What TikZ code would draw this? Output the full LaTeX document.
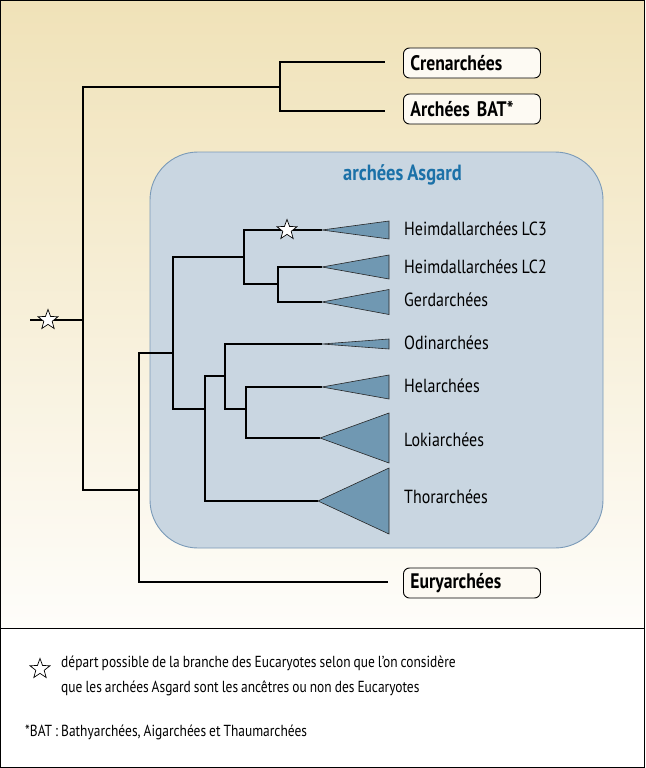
\documentclass[tikz,border=0pt]{standalone}
\usepackage{fontspec}
\setmainfont{PT Sans}[FakeStretch=0.84, WordSpace=0.84]
\usetikzlibrary{shapes.geometric,positioning}
\definecolor{asgardfill}{RGB}{201,214,225}
\definecolor{asgardline}{RGB}{122,154,184}
\definecolor{asgardtitle}{RGB}{27,113,168}
\definecolor{cladefill}{RGB}{112,152,178}
\definecolor{beigetop}{RGB}{240,226,184}
\definecolor{beigebot}{RGB}{254,253,250}
\definecolor{boxfill}{RGB}{253,250,243}

\begin{document}
\begin{tikzpicture}[x=1pt, y=-1pt,
    branch/.style={line width=1.7pt, line join=miter},
    taxon/.style={rectangle, draw, line width=0.9pt, rounded corners=6pt, fill=boxfill, anchor=west, text width=123pt, inner xsep=7pt, minimum height=30pt, align=left, font=\bfseries\fontsize{21}{24}\selectfont},
    clade/.style={anchor=west, inner sep=0pt, font=\fontsize{19}{22}\selectfont},
    cone/.style={draw=black!85, line width=0.6pt, fill=cladefill},
    starmark/.style={star, star points=5, star point ratio=2.4, minimum size=21pt, inner sep=0pt, draw, line width=0.7pt, fill=white},
    asgardbox/.style={rectangle, draw=asgardline, line width=0.9pt, fill=asgardfill, rounded corners=48pt, minimum width=453pt, minimum height=396pt},
    note/.style={anchor=west, inner sep=0pt, font=\fontsize{16}{25}\selectfont, align=left}
]
\useasboundingbox (0,0) rectangle (645,768);

% Panels
\shade[top color=beigetop, bottom color=beigebot] (0,0) rectangle (645,628);
\draw[line width=1pt] (0.5,0.5) rectangle (644.5,628);
\draw[line width=1pt] (0.5,628) rectangle (644.5,767.5);

% Asgard group
\node[asgardbox] (asgard) at (376.5,350) {};
\node[font=\bfseries\fontsize{22}{24}\selectfont, text=asgardtitle, below=10pt of asgard.north, xshift=26pt] (asgardtitle) {archées Asgard};

% Branch points
\coordinate (root) at (30,320);
\coordinate (n0) at (83,320);
\coordinate (n1) at (280,87);
\coordinate (n2) at (139,490);
\coordinate (crenend) at (385,62);
\coordinate (batend) at (385,111);
\coordinate (euryend) at (388,582);
\coordinate (asg) at (173,353);
\coordinate (heim) at (244,257);
\coordinate (lower) at (205,409);
\coordinate (gerdlc2) at (278,284);
\coordinate (odinetc) at (225,376);
\coordinate (helloki) at (246,409);
% Clade apexes
\coordinate (lc3) at (322,230);
\coordinate (lc2) at (322,267);
\coordinate (gerd) at (322,302);
\coordinate (odin) at (322,344);
\coordinate (hel) at (322,387);
\coordinate (loki) at (320,438);
\coordinate (thor) at (318,501);

% Tree
\draw[branch] (root) -- (n0);
\draw[branch] (n0) |- (n1);
\draw[branch] (n0) |- (n2);
\draw[branch] (n1) |- (crenend);
\draw[branch] (n1) |- (batend);
\draw[branch] (n2) |- (euryend);
\draw[branch] (n2) |- (asg);
\draw[branch] (asg) |- (heim);
\draw[branch] (asg) |- (lower);
\draw[branch] (heim) |- (lc3);
\draw[branch] (heim) |- (gerdlc2);
\draw[branch] (gerdlc2) |- (lc2);
\draw[branch] (gerdlc2) |- (gerd);
\draw[branch] (lower) |- (odinetc);
\draw[branch] (lower) |- (thor);
\draw[branch] (odinetc) |- (odin);
\draw[branch] (odinetc) |- (helloki);
\draw[branch] (helloki) |- (hel);
\draw[branch] (helloki) |- (loki);

% Collapsed clades
\draw[cone] (lc3) -- ++(67,-9) -- ++(0,18) -- cycle;
\draw[cone] (lc2) -- ++(67,-12) -- ++(0,24) -- cycle;
\draw[cone] (gerd) -- ++(67,-12.5) -- ++(0,25) -- cycle;
\draw[cone] (odin) -- ++(67,-5) -- ++(0,10) -- cycle;
\draw[cone] (hel) -- ++(67,-12) -- ++(0,24) -- cycle;
\draw[cone] (loki) -- ++(69,-25) -- ++(0,50) -- cycle;
\draw[cone] (thor) -- ++(71,-33) -- ++(0,66) -- cycle;

% Taxa
\node[taxon] (cren) at (403,63) {Crenarchées};
\node[taxon] (bat) at (403,109) {Archées BAT*};
\node[taxon] (eury) at (403,583) {Euryarchées};

\node[clade] (lc3lab) at (404,229) {Heimdallarchées LC3};
\node[clade] (lc2lab) at (404,267) {Heimdallarchées LC2};
\node[clade] (gerdlab) at (404,300) {Gerdarchées};
\node[clade] (odinlab) at (404,343) {Odinarchées};
\node[clade] (hellab) at (404,386) {Helarchées};
\node[clade] (lokilab) at (404,440) {Lokiarchées};
\node[clade] (thorlab) at (404,497) {Thorarchées};

% Possible roots of the Eukaryotes
\node[starmark] (star1) at (48,320) {};
\node[starmark] (star2) at (287,230) {};

% Legend
\node[starmark] (keystar) at (40,669) {};
\node[note, anchor=north west] (keytext) at (61,656) {départ possible de la branche des Eucaryotes selon que l’on considère\\que les archées Asgard sont les ancêtres ou non des Eucaryotes};
\node[note] (battext) at (25,732) {*BAT : Bathyarchées, Aigarchées et Thaumarchées};

\end{tikzpicture}
\end{document}
